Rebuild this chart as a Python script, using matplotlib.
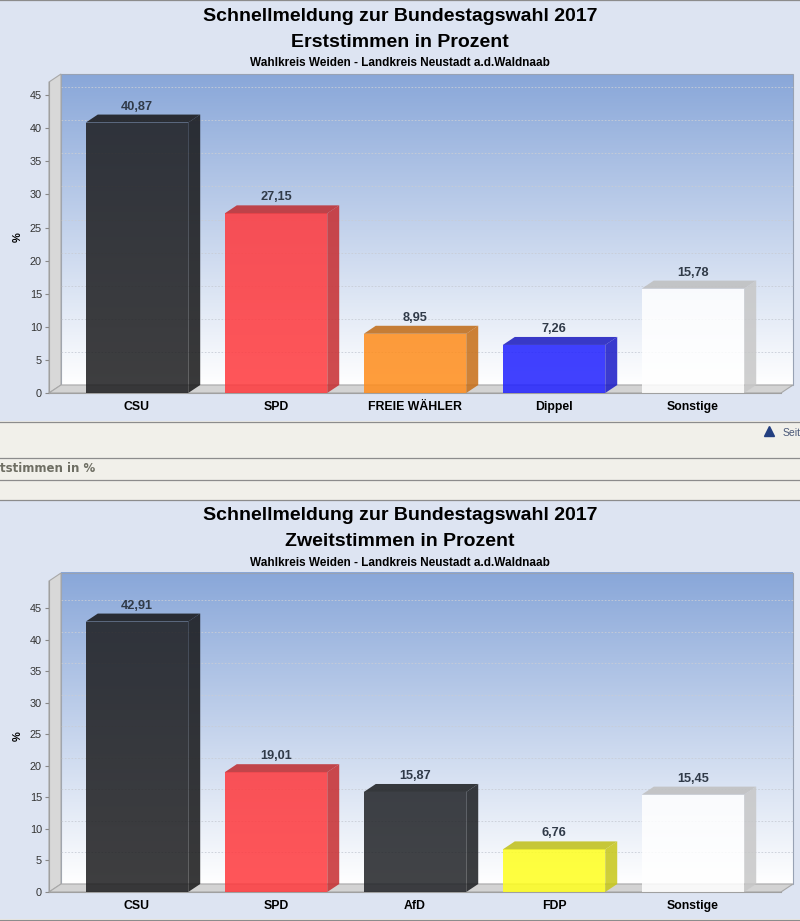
import numpy as np
import matplotlib
matplotlib.use('Agg')
import matplotlib.pyplot as plt
from matplotlib.patches import Polygon, Rectangle
from matplotlib.colors import LinearSegmentedColormap, to_rgb
from matplotlib.transforms import ScaledTranslation

plt.rcParams['font.family'] = ['Liberation Sans', 'DejaVu Sans']

# --- data ---
haupttitel = 'Schnellmeldung zur Bundestagswahl 2017'
untertitel = 'Wahlkreis Weiden - Landkreis Neustadt a.d.Waldnaab'

erst_titel = 'Erststimmen in Prozent'
erst_parteien = ['CSU', 'SPD', 'FREIE WÄHLER', 'Dippel', 'Sonstige']
erst_werte = [40.87, 27.15, 8.95, 7.26, 15.78]
erst_farben = ['#1c1c1e', '#ff383c', '#ff8c1a', '#2020ff', '#ffffff']

zweit_titel = 'Zweitstimmen in Prozent'
zweit_parteien = ['CSU', 'SPD', 'AfD', 'FDP', 'Sonstige']
zweit_werte = [42.91, 19.01, 15.87, 6.76, 15.45]
zweit_farben = ['#1c1c1e', '#ff383c', '#202226', '#ffff1e', '#ffffff']

y_ticks = [0, 5, 10, 15, 20, 25, 30, 35, 40, 45]

# --- layout (pixels) ---
W, H = 800, 921
DX, DY = 12, 8          # 3d depth offset
AX_L, AX_W, AX_H = 49, 732, 311
CHART_BG = '#dde4f2'
BEIGE = '#f1f0ea'
LINE = '#8c8c8c'


def fy(y):
    return 1 - y / H


fig = plt.figure(figsize=(W / 100, H / 100), dpi=100)

# page background with the web page bands in between
bg = fig.add_axes([0, 0, 1, 1])
bg.set_xlim(0, W)
bg.set_ylim(H, 0)
bg.axis('off')
bg.set_zorder(-5)
bg.axhspan(0, 421, color=CHART_BG, lw=0)
bg.axhspan(421, 500, color=BEIGE, lw=0)
bg.axhspan(500, 919, color=CHART_BG, lw=0)
bg.axhspan(919, H, color=BEIGE, lw=0)
for yy in [0.5, 421.5, 457.5, 479.5, 499.5, 919.5]:
    bg.axhline(yy, color=LINE, lw=0.9)
bg.plot(768.5, 431, marker='^', ms=6.5, color='#233f80', mec='#233f80')
bg.text(783, 433, 'Seit', fontsize=7.5, color='#4a5878', va='center')
bg.text(0, 468.5, 'tstimmen in %', fontsize=8.5, weight='bold',
        color='#6e6e63', va='center', family='DejaVu Sans')

shift = ScaledTranslation(DX / 100, DY / 100, fig.dpi_scale_trans)
ox, oy = DX / AX_W, DY / AX_H
back_cmap = LinearSegmentedColormap.from_list('back', ['#ffffff', '#89a7d9'])


def darker(c, f=0.78):
    r, g, b = to_rgb(c)
    return (r * f, g * f, b * f)


def chart(top, titel, parteien, werte, farben):
    fig.text(0.5, fy(top + 21), haupttitel, ha='center', va='baseline',
             fontsize=14, weight='bold')
    fig.text(0.5, fy(top + 47), titel, ha='center', va='baseline',
             fontsize=14, weight='bold')
    fig.text(0.5, fy(top + 66.5), untertitel, ha='center', va='baseline',
             fontsize=8.5, weight='bold')

    base = top + 393
    ax = fig.add_axes([AX_L / W, fy(base), AX_W / W, AX_H / H])
    ax.set_facecolor('none')

    n = len(parteien)
    x = np.arange(n)
    ymax = max(werte) * 1.15

    # back plane with gradient
    ax.imshow(np.linspace(0, 1, 256).reshape(-1, 1), cmap=back_cmap,
              extent=(0, 1, 0, 1), transform=ax.transAxes + shift,
              aspect='auto', origin='lower', interpolation='bilinear',
              zorder=0, clip_on=False)
    ax.add_patch(Rectangle((0, 0), 1, 1, transform=ax.transAxes + shift,
                           fill=False, ec='#98a2b4', lw=0.8, zorder=1,
                           clip_on=False))
    ax.hlines(y_ticks[1:], 0, 1, transform=ax.get_yaxis_transform() + shift,
              colors='#c8cdd6', linestyles=(0, (2, 2)), lw=0.6, zorder=1,
              clip_on=False)
    # left wall and floor
    ax.add_patch(Polygon([(0, 0), (0, 1), (ox, 1 + oy), (ox, oy)],
                         transform=ax.transAxes, fc='#d8d8d8', ec='#a8a8a8',
                         lw=0.8, zorder=1, clip_on=False))
    ax.add_patch(Polygon([(0, 0), (1, 0), (1 + ox, oy), (ox, oy)],
                         transform=ax.transAxes, fc='#d3d3d3', ec='#a8a8a8',
                         lw=0.8, zorder=1, clip_on=False))

    ax.set_xlim(-0.633, n - 1 + 0.633)
    ax.set_ylim(0, ymax)
    ddx = ox * (ax.get_xlim()[1] - ax.get_xlim()[0])
    ddy = oy * ymax
    bw = 0.737

    bars = ax.bar(x, werte, bw, color=farben, alpha=0.85, lw=0, zorder=3)
    for b, v, c in zip(bars, werte, farben):
        x0, x1 = b.get_x(), b.get_x() + b.get_width()
        ax.add_patch(Polygon([(x1, 0), (x1, v), (x1 + ddx, v + ddy), (x1 + ddx, ddy)],
                             fc=darker(c), alpha=0.85, lw=0, zorder=3, clip_on=False))
        ax.add_patch(Polygon([(x0, v), (x1, v), (x1 + ddx, v + ddy), (x0 + ddx, v + ddy)],
                             fc=darker(c, 0.75), alpha=0.85, lw=0, zorder=3, clip_on=False))
        ax.annotate(f'{v:.2f}'.replace('.', ','), xy=(b.get_x() + b.get_width() / 2, v + ddy),
                    xytext=(0, 3.6), textcoords='offset points', ha='center',
                    va='baseline', fontsize=9.2, weight='bold', color='#303a48')

    ax.set_xticks(x, parteien, fontsize=8.8, weight='bold')
    ax.set_yticks(y_ticks)
    ax.tick_params(axis='x', length=0, pad=5.8)
    ax.tick_params(axis='y', length=2.9, width=0.8, color='#888888', pad=2.2,
                   labelsize=7.8, labelcolor='#333333')
    ax.set_ylabel('%', fontsize=8, weight='bold', labelpad=5)
    for s in ['top', 'right']:
        ax.spines[s].set_visible(False)
    for s in ['left', 'bottom']:
        ax.spines[s].set_color('#a0a0a0')
        ax.spines[s].set_linewidth(0.8)
    return ax


chart(0, erst_titel, erst_parteien, erst_werte, erst_farben)
chart(499, zweit_titel, zweit_parteien, zweit_werte, zweit_farben)

fig.savefig('out.png', dpi=100)
